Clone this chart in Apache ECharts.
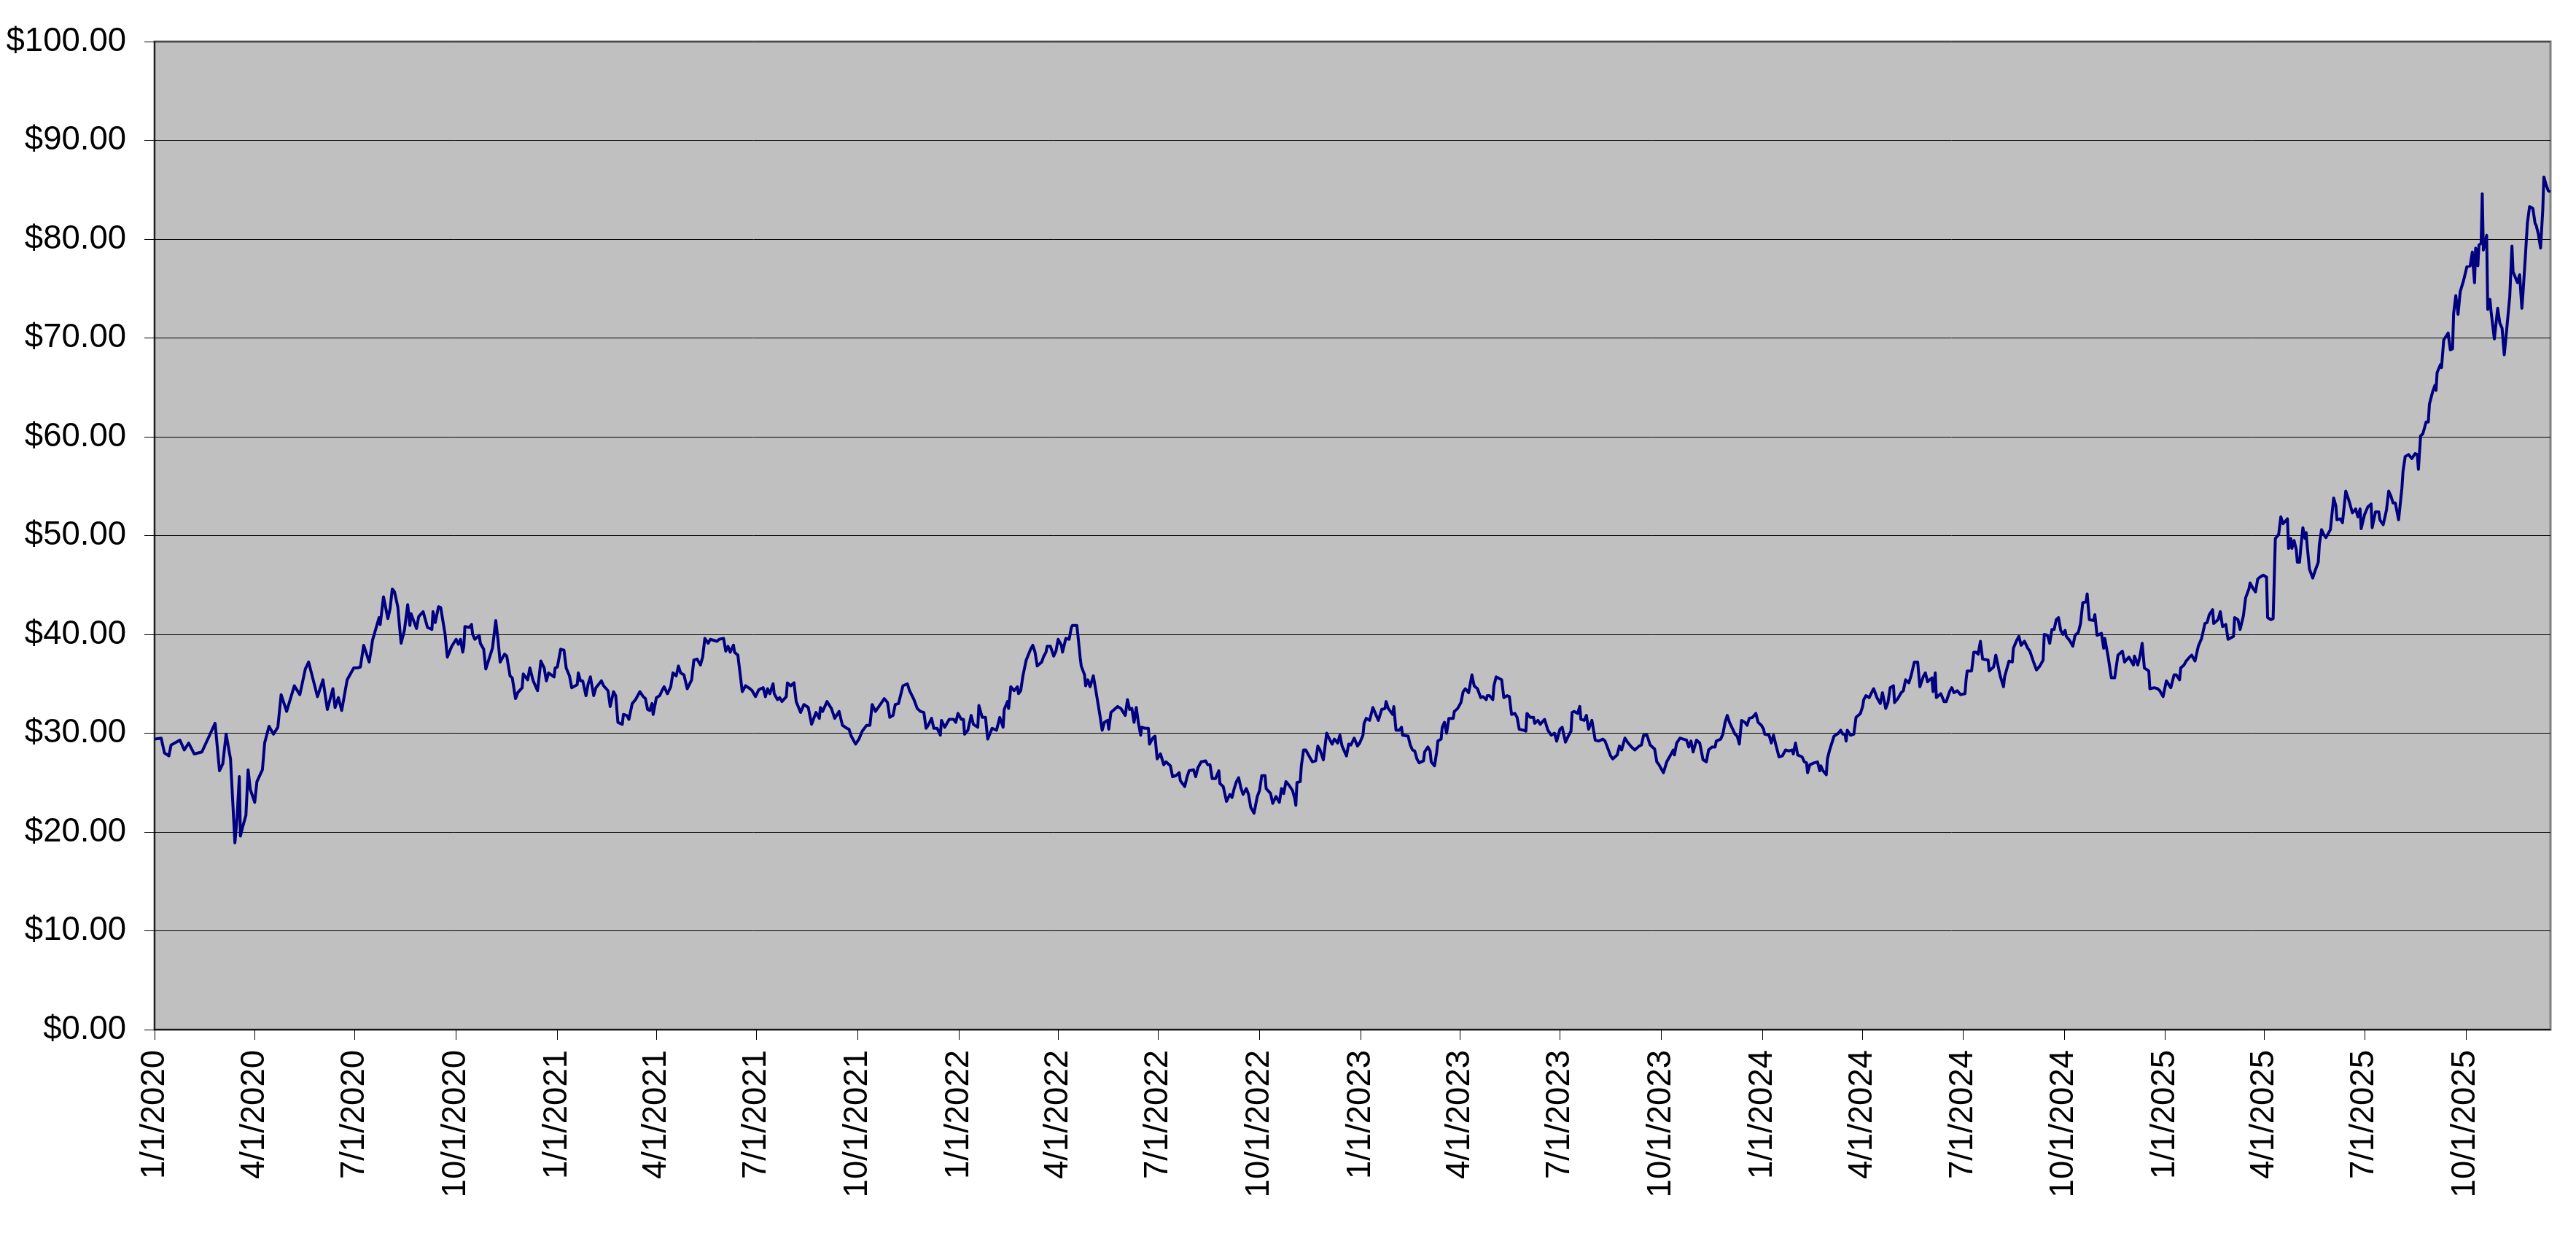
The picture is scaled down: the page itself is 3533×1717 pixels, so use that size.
<!DOCTYPE html>
<html>
<head>
<meta charset="utf-8">
<script src="https://cdn.jsdelivr.net/npm/echarts@6/dist/echarts.min.js"></script>
<style>
html, body { margin: 0; padding: 0; background: #ffffff; }
#chart { width: 3533px; height: 1717px; }
</style>
</head>
<body>
<div id="chart"></div>
<script>
// Start of the series; each point's date is startDate + dayOffsets[i] days.
const startDate = '2020-01-01';
const endDayOffset = 2177;

const dayOffsets = [
0,6,9,13,15,23,27,31,36,43,50,55,59,62,65,69,73,75,77,78,80,83,85,87,91,93,98,100,104,108,112,115,120,127,132,137,140,148,153,157,162,164,167,170,175,181,184,187,190,195,197,198,
204,205,208,212,214,216,218,221,224,227,230,232,233,238,240,244,248,252,253,255,258,260,264,266,270,274,276,278,280,281,282,286,288,289,291,295,296,299,301,307,308,310,312,314,318,320,
323,325,328,330,334,335,339,341,344,348,351,354,356,358,363,364,366,369,372,374,377,379,384,385,387,389,392,394,396,399,401,406,408,412,414,415,417,419,421,425,426,429,431,434,437,441,
444,446,448,450,452,453,456,459,461,463,466,469,471,474,476,478,481,484,488,490,493,496,498,500,503,505,511,513,517,519,521,523,526,527,530,531,534,537,541,543,546,549,553,555,557,559,
562,563,566,568,570,574,575,578,581,583,587,590,594,597,601,604,605,607,611,615,618,622,625,629,631,633,637,640,643,647,650,652,655,660,663,666,668,671,673,676,680,684,686,690,693,696,
699,701,703,706,708,711,714,715,718,722,726,728,730,733,735,736,739,742,744,748,749,752,755,757,761,765,768,771,772,775,776,778,781,784,785,787,789,792,796,798,800,802,806,808,810,811,
814,817,819,821,824,825,828,831,833,834,838,839,841,842,845,846,848,850,853,855,859,861,863,866,867,869,872,875,878,882,884,886,888,890,892,894,896,897,900,903,904,907,909,911,914,917,
919,923,925,928,931,932,936,938,940,944,946,948,951,955,957,959,961,964,967,968,971,974,977,979,981,983,985,987,989,992,994,996,999,1000,1002,1004,1006,1009,1010,1014,1016,1019,1022,1024,
1026,1028,1031,1034,1036,1037,1038,1041,1042,1044,1046,1049,1052,1055,1057,1059,1062,1065,1068,1070,1072,1075,1077,1079,1083,1085,1087,1090,1093,1095,1098,1099,1101,1104,1107,1110,1112,
1115,1118,1119,1121,1125,1126,1128,1131,1133,1134,1139,1141,1143,1145,1147,1149,1153,1154,1157,1159,1160,1163,1165,1166,1169,1170,1172,1174,1176,1180,1181,1184,1187,1189,1191,1194,1197,
1199,1202,1205,1207,1210,1211,1213,1216,1217,1219,1224,1226,1229,1231,1233,1236,1238,1240,1244,1246,1247,1250,1253,1254,1257,1259,1263,1266,1269,1272,1274,1277,1279,1282,1285,1287,1288,
1290,1293,1295,1296,1299,1301,1303,1306,1309,1312,1316,1318,1321,1323,1325,1329,1331,1333,1336,1339,1342,1345,1349,1351,1353,1356,1359,1363,1365,1367,1371,1372,1374,1377,1380,1381,1383,
1386,1389,1392,1394,1396,1398,1401,1404,1407,1410,1412,1415,1418,1419,1423,1425,1427,1429,1431,1434,1436,1438,1440,1442,1445,1447,1449,1452,1455,1457,1460,1462,1463,1467,1469,1471,1473,
1476,1479,1482,1485,1488,1489,1491,1493,1497,1499,1501,1502,1504,1508,1511,1513,1514,1516,1519,1520,1522,1524,1526,1530,1532,1534,1536,1537,1538,1541,1544,1546,1550,1552,1553,1555,1558,
1561,1562,1565,1568,1570,1573,1575,1577,1580,1581,1584,1587,1589,1591,1594,1596,1599,1602,1604,1607,1609,1611,1613,1615,1616,1618,1619,1623,1626,1628,1631,1633,1635,1638,1641,1645,1646,
1647,1651,1653,1655,1657,1659,1661,1666,1667,1671,1673,1677,1680,1681,1685,1688,1689,1692,1694,1696,1699,1702,1704,1707,1710,1713,1716,1717,1720,1722,1724,1726,1728,1730,1732,1734,1736,
1737,1740,1743,1745,1748,1750,1752,1755,1756,1758,1762,1763,1765,1769,1771,1772,1775,1778,1781,1784,1788,1790,1794,1798,1799,1802,1804,1806,1808,1812,1813,1817,1820,1822,1825,1828,1832,
1835,1837,1840,1841,1844,1846,1849,1851,1854,1857,1860,1863,1865,1867,1870,1871,1875,1877,1879,1882,1884,1889,1890,1893,1895,1898,1900,1903,1904,1907,1909,1911,1913,1916,1919,1920,1923,
1925,1927,1930,1932,1934,1938,1939,1941,1942,1944,1946,1947,1949,1950,1952,1954,1955,1956,1958,1961,1963,1966,1967,1969,1971,1973,1977,1980,1982,1983,1986,1988,1991,1994,1997,2000,2002,
2004,2005,2008,2011,2014,2015,2018,2021,2022,2025,2028,2030,2032,2034,2036,2039,2042,2043,2045,2048,2051,2054,2056,2057,2059,2061,2064,2066,2067,2070,2072,2073,2074,2077,2078,2080,2084,
2086,2088,2089,2091,2093,2095,2098,2101,2104,2106,2107,2108,2109,2111,2112,2114,2115,2116,2118,2119,2120,2122,2123,2126,2129,2131,2133,2135,2137,2140,2142,2143,2147,2149,2151,2152,2154,
2155,2156,2158,2161,2163,2164,2166,2168,2170,2171,2173,2175,2177
];

const prices = [
29.4,29.5,28.0,27.7,28.8,29.3,28.3,29.0,27.9,28.1,29.8,31.0,26.2,26.9,29.9,27.4,18.9,21.5,25.6,19.6,20.5,21.7,26.3,24.3,23.0,25.1,26.3,29.0,30.7,29.9,30.6,33.9,32.2,34.8,33.9,36.5,37.2,33.7,35.4,32.4,34.5,32.6,33.6,32.3,35.4,36.6,36.6,36.7,38.9,37.2,38.6,39.4,
41.7,41.0,43.8,41.6,42.6,44.6,44.3,42.8,39.1,40.4,43.0,40.9,42.1,40.6,41.8,42.3,40.7,40.5,42.3,41.2,42.8,42.7,40.0,37.7,38.8,39.5,39.0,39.5,38.2,38.8,40.8,40.7,41.0,40.0,39.5,39.9,39.1,38.5,36.5,38.6,39.5,41.4,39.5,37.2,38.0,37.8,
35.8,35.6,33.5,34.1,34.6,36.0,35.4,36.6,35.3,34.3,37.3,36.6,35.3,36.1,35.7,36.6,36.7,38.5,38.4,36.6,35.8,34.6,34.9,36.1,35.3,35.3,33.8,35.0,35.7,33.8,34.6,35.3,34.8,34.3,32.7,32.7,34.2,33.8,31.1,30.9,31.9,31.8,31.4,33.0,33.4,34.2,
33.7,33.5,32.4,32.3,33.0,31.9,33.6,33.8,34.3,34.7,34.0,34.7,36.1,35.8,36.8,36.1,35.9,34.5,35.4,37.4,37.5,36.9,37.7,39.6,39.1,39.5,39.3,39.5,39.6,38.3,38.8,38.2,38.9,38.2,37.9,38.0,34.2,34.8,34.5,34.3,33.7,34.4,34.6,33.7,34.5,34.0,
35.0,34.0,33.4,33.6,33.2,33.7,35.1,34.8,35.1,33.2,32.1,32.9,32.6,30.9,32.1,31.5,32.6,32.2,33.2,32.5,31.5,32.2,30.8,30.5,30.4,29.7,28.9,29.4,30.2,30.8,30.8,32.9,32.2,33.0,33.5,33.1,31.6,31.8,32.9,33.0,34.8,35.0,34.3,33.4,32.5,32.2,
32.1,30.5,30.8,31.5,30.5,30.5,29.8,31.3,30.6,31.4,31.4,31.1,32.0,31.4,31.4,29.9,30.3,31.8,30.9,30.6,32.8,31.6,31.6,29.4,30.5,30.3,31.6,30.6,32.4,33.2,32.5,34.7,34.3,34.7,34.0,34.3,35.8,37.4,38.5,38.9,38.2,36.8,37.2,37.8,38.2,38.8,
38.8,37.8,38.3,39.5,38.9,38.2,39.6,39.5,40.7,40.9,40.9,39.9,37.7,36.8,35.9,34.8,35.4,34.7,35.8,34.5,31.8,30.3,31.1,31.3,30.4,32.1,32.4,32.7,32.5,31.8,33.4,32.4,32.5,31.1,32.6,31.0,29.8,30.6,30.5,30.5,28.9,29.5,29.7,27.4,27.9,26.8,
27.1,26.7,25.6,25.7,26.0,25.2,24.6,25.5,26.2,26.3,25.6,26.5,27.1,27.2,26.8,26.8,25.4,25.4,26.2,24.9,24.6,23.1,23.8,23.5,24.4,25.1,25.5,24.5,23.8,24.4,23.8,22.5,21.9,22.0,23.6,24.2,25.7,25.7,24.4,23.9,22.9,23.6,23.0,24.4,
23.9,25.1,24.7,24.2,23.4,22.7,25.0,25.1,26.7,28.3,28.3,27.7,27.1,27.2,28.7,28.3,27.3,30.0,29.3,28.9,29.4,29.0,29.8,28.7,27.7,28.9,28.8,29.5,28.7,29.0,29.8,31.0,31.5,31.3,32.6,31.8,31.3,
32.4,32.5,33.2,32.5,31.9,32.7,30.3,30.3,30.6,29.8,29.7,28.8,28.3,28.2,27.4,27.0,27.2,28.1,28.6,28.2,27.1,26.7,28.1,29.2,29.4,30.6,31.1,30.0,31.5,31.5,32.2,32.5,33.1,34.2,34.5,34.1,35.9,
34.8,34.5,33.6,33.7,33.4,33.8,33.8,33.4,34.8,35.7,35.4,33.6,33.8,33.7,31.9,32.0,31.6,30.4,30.3,30.2,32.0,31.6,31.6,31.0,31.3,30.9,31.4,30.3,29.8,30.0,29.2,30.4,30.6,29.1,29.8,30.2,32.1,
32.2,32.0,32.7,31.4,31.3,31.8,30.4,31.3,29.3,29.2,29.4,29.2,28.3,27.7,27.4,27.8,28.7,28.3,29.5,29.0,28.6,28.3,28.7,28.8,29.8,29.8,28.8,28.4,27.1,26.8,26.0,26.0,27.1,27.7,28.3,27.8,29.0,
29.5,29.4,29.3,28.6,29.2,28.1,29.3,29.0,27.3,27.1,28.3,28.6,28.6,29.2,29.4,29.9,31.1,31.8,31.1,30.4,29.9,29.7,28.9,31.3,31.1,30.8,31.5,31.6,32.0,31.1,30.8,30.4,29.9,29.8,29.0,29.8,28.9,
27.6,27.7,28.3,28.2,28.3,27.9,29.0,27.8,27.6,27.1,27.0,26.0,26.8,27.0,27.1,26.2,26.7,26.2,25.8,27.4,28.3,29.0,29.7,30.0,30.3,29.9,29.9,29.2,30.3,29.8,29.9,31.6,32.0,32.7,33.4,33.8,33.6,
34.3,34.5,33.6,33.0,34.1,32.5,33.1,34.6,34.8,33.1,33.5,34.1,34.3,35.4,35.1,35.8,37.2,37.2,34.7,35.7,36.1,35.2,35.4,35.6,34.2,36.1,33.6,34.0,33.2,33.2,34.2,34.6,34.1,34.3,33.9,34.0,35.4,
36.3,36.3,38.2,38.2,38.0,39.3,37.5,37.4,36.3,36.7,37.9,35.8,34.7,35.7,37.3,37.2,38.6,39.4,39.8,38.9,39.3,38.6,38.3,37.3,36.4,36.8,37.4,40.0,39.9,39.1,40.5,40.5,41.5,41.7,40.4,40.0,40.4,
39.8,39.4,38.8,39.9,40.2,41.1,43.2,43.3,44.1,41.5,41.4,42.0,39.9,40.1,38.6,39.6,37.8,35.6,35.6,37.9,38.3,37.2,37.7,36.9,37.8,36.9,37.8,39.1,36.6,36.3,34.5,34.6,34.5,34.3,33.7,35.3,34.6,
35.9,35.9,35.4,36.6,36.9,37.3,37.7,37.9,37.3,38.8,39.6,41.1,41.2,42.0,42.5,41.1,41.5,42.3,40.8,41.0,39.5,39.8,41.7,41.5,40.5,41.9,43.7,44.6,45.2,44.6,44.3,45.6,45.8,46.0,45.8,41.7,41.5,
41.6,49.7,50.1,51.9,51.2,51.7,48.7,49.7,48.7,49.5,48.6,47.3,47.3,48.6,50.8,49.7,50.3,48.9,46.6,45.7,46.4,47.3,49.1,50.6,50.1,49.8,50.6,53.8,53.0,51.6,51.7,51.3,54.5,53.5,52.3,52.7,51.9,
52.7,50.7,52.1,52.9,53.2,50.8,52.4,52.4,51.6,51.1,52.6,54.5,54.0,53.3,53.3,51.6,54.8,56.5,58.0,58.2,57.8,58.3,58.2,56.7,60.1,60.3,61.5,61.5,63.3,64.6,65.2,64.7,66.5,67.3,67.0,69.8,70.5,
68.8,68.9,72.5,74.3,72.4,74.7,75.8,77.2,77.3,78.7,77.0,75.6,79.1,77.3,79.4,79.6,84.6,78.9,79.9,80.4,72.9,73.9,72.7,69.9,73.0,71.5,71.0,68.3,70.6,74.2,79.3,76.7,75.6,76.4,73.0,74.5,77.9,
78.0,81.6,83.3,83.1,81.6,81.4,80.5,79.1,83.0,86.3,85.5,84.9,84.8
];

const xTickLabels = [
'1/1/2020','4/1/2020','7/1/2020','10/1/2020',
'1/1/2021','4/1/2021','7/1/2021','10/1/2021',
'1/1/2022','4/1/2022','7/1/2022','10/1/2022',
'1/1/2023','4/1/2023','7/1/2023','10/1/2023',
'1/1/2024','4/1/2024','7/1/2024','10/1/2024',
'1/1/2025','4/1/2025','7/1/2025','10/1/2025'
];

const yMin = 0, yMax = 100, yStep = 10;

if (dayOffsets.length !== prices.length) {
  throw new Error('length mismatch: days ' + dayOffsets.length + ' prices ' + prices.length);
}

const DAY = 86400000;
function parseISO(s) { const p = s.split('-').map(Number); return Date.UTC(p[0], p[1] - 1, p[2]); }
function parseMDY(s) { const p = s.split('/').map(Number); return Date.UTC(p[2], p[0] - 1, p[1]); }
const t0 = parseISO(startDate);
const seriesData = dayOffsets.map((d, i) => [t0 + d * DAY, prices[i]]);
const tickValues = xTickLabels.map(parseMDY);
function fmtDate(v) {
  const idx = tickValues.indexOf(v);
  if (idx >= 0) return xTickLabels[idx];
  const d = new Date(v);
  return (d.getUTCMonth() + 1) + '/' + d.getUTCDate() + '/' + d.getUTCFullYear();
}

const FONT = 'Liberation Sans, Arial, sans-serif';
const chart = echarts.init(document.getElementById('chart'), null, { renderer: 'canvas' });
chart.setOption({
  animation: false,
  backgroundColor: '#ffffff',
  grid: {
    left: 212, right: 35, top: 57, bottom: 305,
    show: true, backgroundColor: '#C0C0C0', borderColor: '#808080', borderWidth: 3
  },
  xAxis: {
    type: 'value',
    min: t0,
    max: t0 + endDayOffset * DAY,
    axisLine: { show: true, onZero: false, lineStyle: { color: '#000000', width: 1.5 } },
    axisTick: { show: true, inside: false, length: 14, customValues: tickValues, lineStyle: { color: '#000000', width: 1 } },
    axisLabel: {
      show: true, customValues: tickValues, rotate: 90, margin: 28,
      fontSize: 45.5, fontFamily: FONT, color: '#000000',
      formatter: function (v) { return fmtDate(v); }
    },
    splitLine: { show: false },
    minorTick: { show: false }
  },
  yAxis: {
    type: 'value',
    min: yMin, max: yMax, interval: yStep,
    axisLine: { show: true, lineStyle: { color: '#000000', width: 1.5 } },
    axisTick: { show: true, inside: false, length: 14, lineStyle: { color: '#000000', width: 1 } },
    axisLabel: {
      fontSize: 45.5, fontFamily: FONT, color: '#000000', margin: 39,
      formatter: function (v) { return '$' + v.toFixed(2); }
    },
    splitLine: { show: true, lineStyle: { color: '#000000', width: 1 } }
  },
  series: [{
    type: 'line',
    data: seriesData,
    showSymbol: false,
    symbol: 'none',
    lineStyle: { color: '#000080', width: 4, join: 'round' },
    itemStyle: { color: '#000080' },
    z: 5
  }]
});
</script>
</body>
</html>
